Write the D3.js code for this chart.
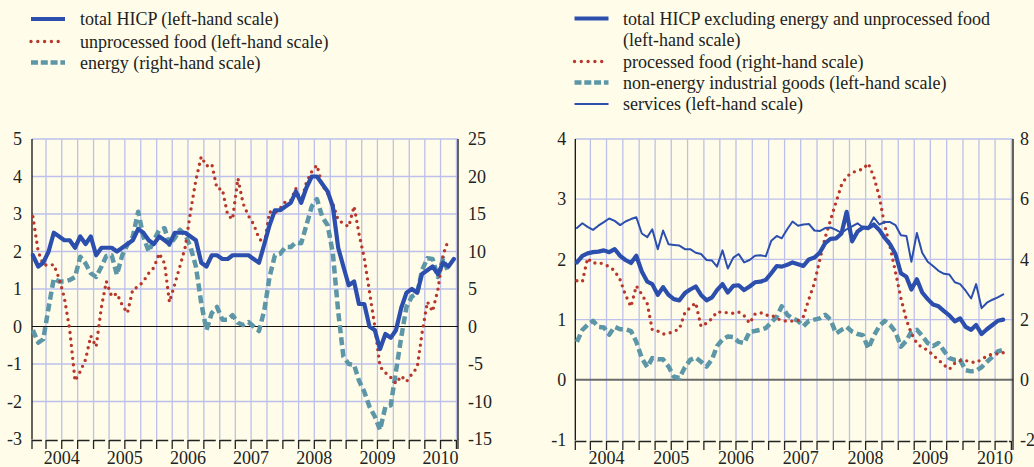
<!DOCTYPE html>
<html>
<head>
<meta charset="utf-8">
<script src="https://cdn.jsdelivr.net/npm/d3@7/dist/d3.min.js"></script>
<style>
  body { margin: 0; background: #fffde9; }
  svg { display: block; }
  text { font-family: "Liberation Serif", "Times New Roman", Times, "DejaVu Serif", serif; }
</style>
</head>
<body>
<svg id="chart" width="1034" height="467"></svg>
<script>
// ---------------- data (monthly, Jan 2004 onwards) ----------------
const totalHicp = [
  1.9, 1.6, 1.7, 2.0, 2.5, 2.4, 2.3, 2.3, 2.1, 2.4, 2.2, 2.4,
  1.9, 2.1, 2.1, 2.1, 2.0, 2.1, 2.2, 2.3, 2.6, 2.5, 2.3, 2.2,
  2.4, 2.3, 2.2, 2.5, 2.5, 2.5, 2.4, 2.3, 1.7, 1.6, 1.9, 1.9,
  1.8, 1.8, 1.9, 1.9, 1.9, 1.9, 1.8, 1.7, 2.2, 2.7, 3.1, 3.1,
  3.2, 3.3, 3.6, 3.3, 3.7, 4.0, 4.0, 3.8, 3.6, 3.2, 2.1, 1.6,
  1.1, 1.2, 0.6, 0.6, 0.0, -0.1, -0.6, -0.2, -0.3, -0.1, 0.5, 0.9,
  1.0, 0.9, 1.4, 1.5, 1.6, 1.4, 1.7, 1.6, 1.8
];
const unprocessedFood = [
  2.93, 2.0, 1.65, 1.63, 1.65, 1.28, 0.77, -0.08, -1.45, -1.2, -0.88, -0.25,
  -0.54, 0.53, 1.2, 0.8, 0.88, 0.57, 0.36, 0.99, 1.06, 1.2, 1.42, 1.57,
  1.95, 1.68, 0.65, 1.13, 1.61, 2.13, 3.06, 3.91, 4.53, 4.28, 4.33, 3.68,
  3.66, 2.97, 2.86, 3.95, 3.28, 2.95, 2.73, 2.35, 2.2, 3.06, 3.02, 3.15,
  3.33, 3.37, 3.68, 3.33, 3.84, 4.13, 4.3, 3.77, 3.55, 3.27, 2.84, 2.75,
  2.66, 3.21, 2.48, 1.82, 0.93, 0.0, -1.07, -1.23, -1.36, -1.52, -1.32, -1.47,
  -1.27, -1.09, -0.18, 0.66, 0.4, 0.99, 1.91, 2.32
];
const energy = [
  -0.47, -2.15, -1.7, 2.5, 6.4, 6.0, 6.0, 6.2, 6.6, 9.3, 8.4, 7.1,
  6.6, 8.0, 9.4, 9.5, 6.9, 9.5, 10.9, 12.0, 15.3, 12.0, 10.0, 11.5,
  12.9, 13.1, 10.9, 11.8, 12.9, 12.2, 10.6, 8.0, 3.1, -0.5, 1.8, 2.6,
  0.9, 0.9, 1.5, 0.5, 0.2, 0.6, 0.0, -0.6, 2.2, 6.6, 9.5, 9.7,
  10.6, 10.6, 11.2, 11.1, 13.5, 16.0, 17.0, 14.6, 13.5, 9.8, 2.0, -4.0,
  -5.0, -5.1, -7.2, -8.7, -10.7, -12.0, -13.8, -10.7, -10.5, -6.0, -1.4, 2.6,
  4.0, 4.4, 7.5, 9.1, 9.0, 6.6, 9.1, 7.1
];

const hicpExEnergyFood = [
  1.95, 2.06, 2.1, 2.12, 2.13, 2.15, 2.12, 2.17, 2.06, 1.99, 1.94, 2.06,
  1.8, 1.63, 1.59, 1.41, 1.54, 1.41, 1.34, 1.32, 1.44, 1.5, 1.55, 1.41,
  1.32, 1.37, 1.49, 1.59, 1.45, 1.56, 1.57, 1.49, 1.55, 1.62, 1.63, 1.66,
  1.77, 1.89, 1.88, 1.91, 1.95, 1.92, 1.89, 2.0, 2.03, 2.11, 2.27, 2.34,
  2.35, 2.43, 2.79, 2.3, 2.46, 2.53, 2.52, 2.58, 2.49, 2.36, 2.25, 2.09,
  1.77, 1.71, 1.5, 1.67, 1.45, 1.34, 1.25, 1.22, 1.14, 1.07, 0.97, 1.02,
  0.88, 0.83, 0.91, 0.76, 0.84, 0.91, 0.98, 1.0
];
const processedFood = [
  3.29, 3.26, 4.04, 3.87, 3.9, 3.84, 3.76, 3.62, 3.32, 2.82, 2.43, 3.12,
  2.84, 2.52, 1.66, 1.62, 1.52, 1.54, 1.61, 1.69, 2.23, 2.4, 2.56, 1.77,
  1.88, 2.04, 2.26, 2.24, 2.23, 2.21, 2.25, 2.13, 1.88, 2.18, 2.23, 2.14,
  2.15, 2.04, 1.97, 1.95, 1.95, 1.97, 2.1, 2.68, 3.21, 3.97, 4.73, 5.3,
  5.9, 6.47, 6.75, 6.88, 6.95, 7.0, 7.19, 6.75, 6.09, 5.14, 4.42, 3.59,
  2.71, 1.99, 1.54, 1.21, 1.07, 0.99, 0.82, 0.66, 0.49, 0.35, 0.55, 0.64,
  0.64, 0.59, 0.57, 0.68, 0.79, 0.86, 0.86, 0.9
];
const nonEnergyGoods = [
  0.63, 0.83, 0.91, 0.98, 0.88, 0.87, 0.75, 0.88, 0.84, 0.84, 0.81, 0.63,
  0.36, 0.21, 0.36, 0.34, 0.34, 0.22, 0.05, 0.03, 0.21, 0.33, 0.37, 0.3,
  0.22, 0.34, 0.56, 0.67, 0.72, 0.71, 0.63, 0.61, 0.8, 0.81, 0.83, 0.86,
  0.95, 1.05, 1.22, 1.08, 1.02, 0.98, 0.89, 0.98, 1.0, 1.02, 1.08, 1.0,
  0.77, 0.83, 0.88, 0.8, 0.76, 0.74, 0.52, 0.73, 0.89, 0.98, 0.91, 0.8,
  0.55, 0.65, 0.8, 0.83, 0.73, 0.61, 0.56, 0.61, 0.48, 0.36, 0.33, 0.33,
  0.16, 0.14, 0.15, 0.21, 0.3, 0.38, 0.47, 0.5
];
const services = [
  2.52, 2.6, 2.54, 2.49, 2.56, 2.62, 2.68, 2.64, 2.57, 2.63, 2.67, 2.7,
  2.43, 2.37, 2.5, 2.17, 2.48, 2.25, 2.24, 2.23, 2.17, 2.17, 2.11, 2.09,
  1.99, 1.98, 1.88, 2.15, 1.85, 2.03, 2.09, 1.95, 1.99, 2.06, 2.07, 2.05,
  2.31, 2.39, 2.35, 2.5, 2.63, 2.56, 2.58, 2.59, 2.48, 2.47, 2.52, 2.53,
  2.49, 2.44, 2.5, 2.55, 2.6, 2.53, 2.53, 2.7, 2.58, 2.62, 2.62, 2.57,
  2.4, 2.39, 1.96, 2.44, 2.11, 1.96, 1.89, 1.81, 1.76, 1.75, 1.62, 1.59,
  1.48, 1.35, 1.59, 1.19, 1.28, 1.33, 1.37, 1.42
];

const yearLabels = ["2004", "2005", "2006", "2007", "2008", "2009", "2010"];
const leftTicksA = [5, 4, 3, 2, 1, 0, -1, -2, -3];
const rightTicksA = [25, 20, 15, 10, 5, 0, -5, -10, -15];
const leftTicksB = [4, 3, 2, 1, 0, -1];
const rightTicksB = [8, 6, 4, 2, 0, -2];

const legendA = [
  "total HICP (left-hand scale)",
  "unprocessed food (left-hand scale)",
  "energy (right-hand scale)"
];
const legendB = [
  ["total HICP excluding energy and unprocessed food", "(left-hand scale)"],
  ["processed food (right-hand scale)"],
  ["non-energy industrial goods (left-hand scale)"],
  ["services (left-hand scale)"]
];

// ---------------- styles ----------------
const FONT = '"Liberation Serif", "Times New Roman", Times, "DejaVu Serif", serif';
const FS = 18;
const BLUE = "#2c4fae", RED = "#b8372c", TEAL = "#5c96a7", GRID = "#bcc0ea";
const styles = {
  thick:  { stroke: BLUE, width: 4.2, dash: null, cap: "round" },
  thin:   { stroke: BLUE, width: 2, dash: null, cap: "round" },
  dotted: { stroke: RED, width: 3.4, dash: "0 6.5", cap: "round" },
  dashed: { stroke: TEAL, width: 4.5, dash: "8 4", cap: "butt" }
};
const fmt = d => String(d).replace("\u2212", "-");

const svg = d3.select("#chart");
const months = n => d3.range(n).map(i => new Date(2004, i, 16));

function drawPanel(cfg) {
  let g = svg.append("g");
  let x = d3.scaleTime().domain(cfg.tDomain).range([cfg.x0, cfg.x1]);
  let yL = d3.scaleLinear().domain(cfg.lDomain).range([cfg.yBot, cfg.yTop]);
  let yR = d3.scaleLinear().domain(cfg.rDomain).range([cfg.yBot, cfg.yTop]);

  // grid
  let quarters = d3.timeMonth.every(3).range(cfg.tDomain[0], cfg.tDomain[1]);
  g.selectAll(".vg").data(quarters).enter().append("line")
    .attr("x1", d => x(d)).attr("x2", d => x(d))
    .attr("y1", cfg.yTop).attr("y2", cfg.yBot)
    .attr("stroke", GRID).attr("stroke-width", 1.3);
  g.selectAll(".hg").data(cfg.hGrid).enter().append("line")
    .attr("x1", cfg.x0).attr("x2", cfg.x1)
    .attr("y1", d => yL(d)).attr("y2", d => yL(d))
    .attr("stroke", GRID).attr("stroke-width", 1.3);
  g.append("line")
    .attr("x1", cfg.x0).attr("x2", cfg.x1)
    .attr("y1", yL(0)).attr("y2", yL(0))
    .attr("stroke", cfg.zeroColor).attr("stroke-width", cfg.zeroWidth);

  // axis lines
  [cfg.x0, cfg.x1].forEach(px => {
    g.append("line").attr("x1", px).attr("x2", px)
      .attr("y1", cfg.yTop).attr("y2", cfg.yBot + 0.5)
      .attr("stroke", "#111").attr("stroke-width", 1.3);
  });

  // bottom ticks
  let tickXs = [cfg.x0].concat(quarters.map(d => x(d)));
  tickXs.forEach((px, i) => {
    let next = i < tickXs.length - 1 ? tickXs[i + 1] : cfg.x1;
    g.append("path")
      .attr("d", `M${px},${cfg.yBot + 10}V${cfg.yBot + 1.5}H${next - 4}`)
      .attr("fill", "none").attr("stroke", "#222").attr("stroke-width", 1.3);
  });
  g.append("line").attr("x1", cfg.x1).attr("x2", cfg.x1)
    .attr("y1", cfg.yBot).attr("y2", cfg.yBot + 10)
    .attr("stroke", "#222").attr("stroke-width", 1.3);

  // y tick labels
  let axL = g.append("g").attr("transform", `translate(${cfg.x0},0)`)
    .call(d3.axisLeft(yL).tickValues(cfg.lTicks).tickFormat(fmt).tickSize(0).tickPadding(cfg.padL));
  let axR = g.append("g").attr("transform", `translate(${cfg.x1},0)`)
    .call(d3.axisRight(yR).tickValues(cfg.rTicks).tickFormat(fmt).tickSize(0).tickPadding(cfg.padR));
  [axL, axR].forEach(a => {
    a.attr("font-family", FONT).attr("font-size", FS);
    a.select(".domain").remove();
    a.selectAll("text").attr("fill", "#222").style("font-family", FONT);
  });

  // year labels
  g.selectAll(".yr").data(yearLabels).enter().append("text")
    .attr("x", d => x(new Date(+d, 6, 1)))
    .attr("y", 464)
    .attr("text-anchor", "middle")
    .attr("font-size", FS).attr("fill", "#222")
    .style("font-family", FONT)
    .text(d => d);

  // series
  cfg.series.forEach(s => {
    let st = styles[s.style];
    let ys = s.axis === "r" ? yR : yL;
    let dates = months(s.values.length);
    let line = d3.line().x((d, i) => x(dates[i])).y(d => ys(d));
    g.append("path").datum(s.values)
      .attr("d", line)
      .attr("fill", "none")
      .attr("stroke", st.stroke)
      .attr("stroke-width", st.width)
      .attr("stroke-linecap", st.cap)
      .attr("stroke-linejoin", "round")
      .attr("stroke-dasharray", st.dash);
  });
}

function drawLegend(items, styleKeys, x0, textX, rows) {
  let g = svg.append("g");
  items.forEach((lines, i) => {
    let st = styles[styleKeys[i]];
    let y = rows[i];
    g.append("line").attr("x1", x0).attr("x2", x0 + 34)
      .attr("y1", y).attr("y2", y)
      .attr("stroke", st.stroke).attr("stroke-width", st.width)
      .attr("stroke-linecap", st.dash && st.cap === "round" ? "round" : "butt")
      .attr("stroke-dasharray", st.dash ? (st.cap === "round" ? "0 6.8" : "7 2.8") : null);
    [].concat(lines).forEach((t, j) => {
      g.append("text").attr("x", textX).attr("y", y + 6 + j * 21.5)
        .attr("font-size", FS).attr("fill", "#222")
        .style("font-family", FONT)
        .text(t);
    });
  });
}

drawPanel({
  x0: 32, x1: 458, yTop: 139, yBot: 439,
  tDomain: [new Date(2004, 0, 11), new Date(2010, 9, 10)],
  lDomain: [-3, 5], rDomain: [-15, 25],
  lTicks: leftTicksA, rTicks: rightTicksA, padL: 10, padR: 10,
  hGrid: [-2, -1, 1, 2, 3, 4, 5],
  zeroColor: "#111", zeroWidth: 1.2,
  series: [
    { values: energy, axis: "r", style: "dashed" },
    { values: unprocessedFood, axis: "l", style: "dotted" },
    { values: totalHicp, axis: "l", style: "thick" }
  ]
});

drawPanel({
  x0: 575.3, x1: 1013, yTop: 139, yBot: 440,
  tDomain: [new Date(2004, 0, 7), new Date(2010, 9, 10)],
  lDomain: [-1, 4], rDomain: [-2, 8],
  lTicks: leftTicksB, rTicks: rightTicksB, padL: 9, padR: 7,
  hGrid: [1, 2, 3, 4],
  zeroColor: "#6a6a6a", zeroWidth: 2,
  series: [
    { values: nonEnergyGoods, axis: "l", style: "dashed" },
    { values: processedFood, axis: "r", style: "dotted" },
    { values: services, axis: "l", style: "thin" },
    { values: hicpExEnergyFood, axis: "l", style: "thick" }
  ]
});

drawLegend(legendA, ["thick", "dotted", "dashed"], 31, 80, [19, 41.5, 62.5]);
drawLegend(legendB, ["thick", "dotted", "dashed", "thin"], 574.5, 623, [18.5, 61.5, 82.5, 104]);
</script>
</body>
</html>
